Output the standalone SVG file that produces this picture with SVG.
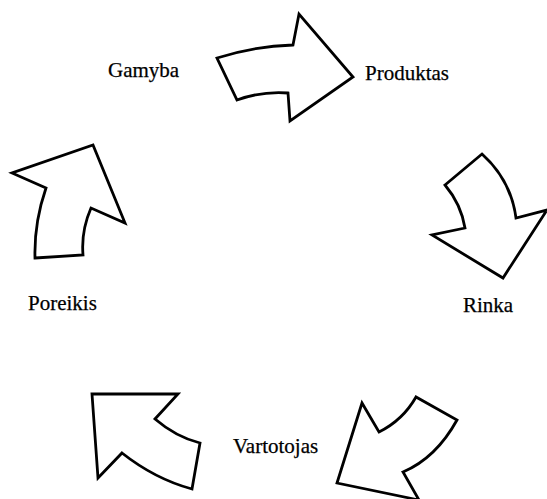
<svg xmlns="http://www.w3.org/2000/svg" width="547" height="499" viewBox="0 0 547 499">
<style>
.arrow{fill:#fff;stroke:#000;stroke-width:2.8;stroke-linejoin:miter}
.lbl{font-family:"Liberation Serif","Times New Roman",serif;font-size:21px;fill:#000;stroke:#000;stroke-width:0.25}
</style>
<rect width="547" height="499" fill="#fff"/>
<g id="connectors">
<path id="arrow-gamyba-produktas" class="arrow" d="M217,58 Q255,46 293,45 L299,14 L353,77 L290,121 L288,93 Q262,91 237,100 Z"/>
<path id="arrow-produktas-rinka" class="arrow" d="M445,185 L482,154 Q511,180 516,218 L547,210 L503,278 L432,235 L465,228 Q461,204 445,185 Z"/>
<path id="arrow-rinka-vartotojas" class="arrow" d="M457,420 Q436,458 403,472 L419,500 L337,483 L362,403 L379,432 Q403,420 416,397 Z"/>
<path id="arrow-vartotojas-poreikis" class="arrow" d="M192,489 Q155,479 122,453 L98,478 L92,394 L178,394 L155,419 Q176,437 200,443 Z"/>
<path id="arrow-poreikis-gamyba" class="arrow" d="M35,258 L83,255 Q81,231 91,208 L125,223 L93,145 L12,173 L46,188 Q34,223 35,258 Z"/>
</g>
<g id="gamyba"><text class="lbl" x="108" y="77">Gamyba</text></g>
<g id="produktas"><text class="lbl" x="365" y="80">Produktas</text></g>
<g id="rinka"><text class="lbl" x="463" y="312">Rinka</text></g>
<g id="vartotojas"><text class="lbl" x="233" y="453">Vartotojas</text></g>
<g id="poreikis"><text class="lbl" x="28" y="310">Poreikis</text></g>
</svg>
